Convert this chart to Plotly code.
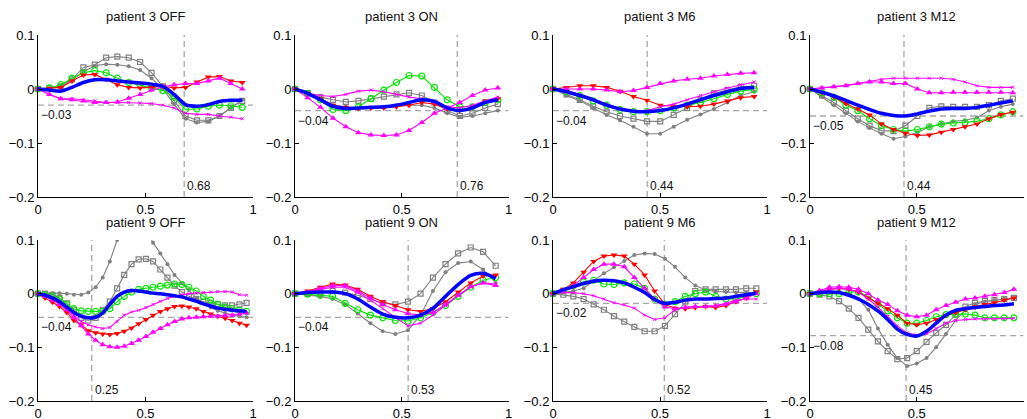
import plotly.graph_objects as go

# ---------------- data ----------------
TITLES = ["patient 3 OFF", "patient 3 ON", "patient 3 M6", "patient 3 M12",
          "patient 9 OFF", "patient 9 ON", "patient 9 M6", "patient 9 M12"]
MIN_X = [0.68, 0.76, 0.44, 0.44, 0.25, 0.53, 0.52, 0.45]
MIN_Y = [-0.03, -0.04, -0.04, -0.05, -0.044, -0.044, -0.018, -0.078]
MIN_X_LABEL = ["0.68", "0.76", "0.44", "0.44", "0.25", "0.53", "0.52", "0.45"]
MIN_Y_LABEL = ["\u22120.03", "\u22120.04", "\u22120.04", "\u22120.05",
               "\u22120.04", "\u22120.04", "\u22120.02", "\u22120.08"]

# patient 3 OFF
P3OFF_X = [0, 0.053, 0.106, 0.158, 0.211, 0.264, 0.317, 0.369, 0.422, 0.475,
           0.528, 0.581, 0.633, 0.686, 0.739, 0.792, 0.844, 0.897, 0.95]
P3OFF_GSQ = [0, 0.001, 0.005, 0.018, 0.04, 0.045, 0.058, 0.06, 0.058, 0.05,
             0.03, 0.005, -0.022, -0.05, -0.058, -0.058, -0.05, -0.035, -0.022]
P3OFF_GDOT = [0, 0.002, 0.006, 0.016, 0.032, 0.043, 0.046, 0.045, 0.042, 0.035,
              0.02, 0.0, -0.028, -0.055, -0.062, -0.06, -0.05, -0.035, -0.02]
P3OFF_GRN = [0, 0.002, 0.008, 0.02, 0.03, 0.034, 0.03, 0.02, 0.012, 0.007,
             0.003, -0.003, -0.015, -0.038, -0.037, -0.032, -0.03, -0.031, -0.034]
P3OFF_RED = [0, 0.001, 0.003, 0.015, 0.026, 0.027, 0.018, 0.008, 0.003, 0.002,
             0.003, 0.005, 0.002, 0.003, 0.013, 0.022, 0.023, 0.015, 0.012]
P3OFF_MTRI = [0, -0.01, -0.018, -0.02, -0.022, -0.025, -0.025, -0.024, -0.017, -0.01,
              -0.002, 0.004, 0.008, 0.01, 0.01, 0.015, 0.02, 0.01, 0.0]
P3OFF_MDOT = [0, -0.01, -0.018, -0.018, -0.02, -0.022, -0.025, -0.025, -0.025, -0.026,
              -0.027, -0.03, -0.035, -0.045, -0.047, -0.047, -0.05, -0.052, -0.055]
P3OFF_BLUE = [0, -0.002, -0.004, 0.003, 0.012, 0.017, 0.017, 0.015, 0.013, 0.011,
              0.009, 0.005, -0.01, -0.029, -0.032, -0.029, -0.023, -0.021, -0.021]

# patient 3 ON
P3ON_X = [0, 0.059, 0.119, 0.178, 0.238, 0.297, 0.356, 0.416, 0.475, 0.534,
          0.594, 0.653, 0.713, 0.772, 0.831, 0.891, 0.95]
P3ON_GSQ = [0, -0.008, -0.015, -0.02, -0.024, -0.022, -0.018, -0.014, -0.01, -0.007,
            -0.012, -0.025, -0.04, -0.05, -0.045, -0.035, -0.028]
P3ON_GDOT = [0, -0.008, -0.02, -0.03, -0.033, -0.035, -0.035, -0.033, -0.03, -0.03,
             -0.03, -0.035, -0.045, -0.052, -0.05, -0.045, -0.04]
P3ON_GRN = [0, -0.008, -0.02, -0.038, -0.04, -0.033, -0.018, -0.002, 0.012, 0.025,
            0.024, 0.003, -0.02, -0.033, -0.033, -0.025, -0.02]
P3ON_RED = [0, -0.008, -0.018, -0.03, -0.034, -0.036, -0.035, -0.035, -0.033, -0.03,
            -0.025, -0.028, -0.037, -0.04, -0.033, -0.022, -0.018]
P3ON_MTRI = [0, -0.016, -0.034, -0.054, -0.07, -0.081, -0.085, -0.086, -0.085, -0.077,
             -0.062, -0.045, -0.035, -0.025, -0.012, -0.002, 0.002]
P3ON_MDOT = [0, -0.008, -0.012, -0.014, -0.01, -0.004, -0.002, -0.005, -0.01, -0.015,
             -0.018, -0.025, -0.033, -0.035, -0.03, -0.022, -0.015]
P3ON_BLUE = [0, -0.008, -0.02, -0.032, -0.036, -0.035, -0.034, -0.033, -0.03, -0.025,
             -0.02, -0.023, -0.035, -0.04, -0.035, -0.025, -0.02]

# patient 3 M6
P3M6_X = [0, 0.063, 0.125, 0.188, 0.251, 0.313, 0.376, 0.439, 0.501, 0.564,
          0.627, 0.689, 0.752, 0.815, 0.877, 0.94]
P3M6_GSQ = [0, -0.01, -0.02, -0.032, -0.042, -0.05, -0.055, -0.06, -0.06, -0.048,
            -0.035, -0.02, -0.008, -0.002, 0.004, 0.006]
P3M6_GDOT = [0, -0.012, -0.022, -0.035, -0.048, -0.058, -0.07, -0.083, -0.083, -0.07,
             -0.057, -0.047, -0.037, -0.025, -0.012, -0.005]
P3M6_GRN = [0, -0.005, -0.012, -0.022, -0.03, -0.038, -0.042, -0.042, -0.04, -0.035,
            -0.03, -0.025, -0.018, -0.01, -0.004, -0.001]
P3M6_RED = [0, 0.003, 0.006, 0.006, 0.003, -0.004, -0.014, -0.021, -0.03, -0.032,
            -0.033, -0.032, -0.028, -0.022, -0.016, -0.014]
P3M6_MTRI = [0, 0.0, 0.0, 0.0, -0.002, -0.005, -0.003, 0.003, 0.01, 0.015,
             0.018, 0.02, 0.024, 0.027, 0.029, 0.03]
P3M6_MDOT = [0, -0.003, -0.01, -0.02, -0.028, -0.037, -0.042, -0.04, -0.033, -0.028,
             -0.02, -0.012, -0.005, 0.002, 0.008, 0.013]
P3M6_BLUE = [0, -0.005, -0.012, -0.02, -0.03, -0.037, -0.041, -0.042, -0.04, -0.035,
             -0.028, -0.02, -0.012, -0.005, 0.001, 0.003]

# patient 3 M12
P3M12_X = [0, 0.056, 0.112, 0.168, 0.224, 0.279, 0.335, 0.391, 0.447, 0.503,
           0.559, 0.615, 0.671, 0.726, 0.782, 0.838, 0.894, 0.95]
P3M12_GSQ = [0, -0.012, -0.025, -0.04, -0.055, -0.068, -0.077, -0.078, -0.068, -0.05,
             -0.035, -0.032, -0.033, -0.033, -0.033, -0.03, -0.022, -0.018]
P3M12_GDOT = [0, -0.015, -0.03, -0.045, -0.06, -0.072, -0.083, -0.092, -0.088, -0.08,
              -0.07, -0.065, -0.06, -0.058, -0.053, -0.04, -0.033, -0.028]
P3M12_GRN = [0, -0.007, -0.015, -0.03, -0.04, -0.055, -0.068, -0.075, -0.078, -0.075,
             -0.07, -0.065, -0.063, -0.062, -0.06, -0.055, -0.048, -0.042]
P3M12_RED = [0, -0.007, -0.015, -0.027, -0.037, -0.048, -0.065, -0.075, -0.082, -0.086,
             -0.085, -0.08, -0.075, -0.07, -0.065, -0.055, -0.047, -0.043]
P3M12_MTRI = [0, 0.002, 0.004, 0.006, 0.01, 0.013, 0.013, 0.01, 0.01, 0.0,
              -0.007, -0.007, -0.006, -0.006, -0.006, -0.006, -0.006, -0.007]
P3M12_MDOT = [0, 0.002, 0.004, 0.007, 0.01, 0.014, 0.018, 0.02, 0.02, 0.02,
              0.02, 0.02, 0.018, 0.013, 0.006, 0.003, 0.003, 0.003]
P3M12_BLUE = [0, -0.006, -0.013, -0.021, -0.03, -0.038, -0.045, -0.049, -0.05, -0.046,
              -0.041, -0.037, -0.036, -0.036, -0.034, -0.03, -0.026, -0.022]

# patient 9 OFF
P9OFF_X = [0, 0.033, 0.067, 0.1, 0.134, 0.167, 0.201, 0.234, 0.268, 0.301,
           0.334, 0.368, 0.401, 0.435, 0.468, 0.502, 0.535, 0.569, 0.602, 0.635,
           0.669, 0.702, 0.736, 0.769, 0.803, 0.836, 0.87, 0.903, 0.937, 0.97]
P9OFF_GSQ = [0, 0, -0.002, -0.008, -0.018, -0.03, -0.045, -0.05, -0.045, -0.03,
             -0.015, 0.01, 0.035, 0.055, 0.064, 0.065, 0.06, 0.045, 0.03, 0.015,
             0.003, -0.005, -0.01, -0.015, -0.018, -0.02, -0.022, -0.022, -0.02, -0.017]
P9OFF_GDOT = [0, 0.001, 0.001, 0.001, 0.0, -0.002, -0.002, 0.002, 0.012, 0.03,
              0.06, 0.1, 0.13, 0.145, 0.14, 0.12, 0.095, 0.075, 0.055, 0.035,
              0.02, 0.007, -0.008, -0.018, -0.026, -0.032, -0.036, -0.04, -0.042, -0.044]
P9OFF_GRN = [0, -0.002, -0.005, -0.01, -0.02, -0.028, -0.032, -0.033, -0.033, -0.033,
             -0.028, -0.015, -0.005, 0.003, 0.008, 0.01, 0.012, 0.014, 0.016, 0.018,
             0.017, 0.012, 0.005, -0.005, -0.012, -0.02, -0.025, -0.028, -0.031, -0.033]
P9OFF_RED = [0, -0.008, -0.016, -0.024, -0.035, -0.05, -0.058, -0.069, -0.073, -0.075,
             -0.076, -0.074, -0.07, -0.064, -0.056, -0.048, -0.04, -0.033, -0.028, -0.024,
             -0.023, -0.025, -0.028, -0.033, -0.038, -0.042, -0.046, -0.05, -0.055, -0.059]
P9OFF_MTRI = [0, -0.005, -0.012, -0.02, -0.03, -0.045, -0.06, -0.075, -0.087, -0.095,
              -0.099, -0.1, -0.098, -0.093, -0.087, -0.08, -0.072, -0.065, -0.058, -0.052,
              -0.047, -0.045, -0.044, -0.043, -0.042, -0.042, -0.041, -0.04, -0.038, -0.036]
P9OFF_MDOT = [0, -0.005, -0.01, -0.02, -0.03, -0.04, -0.052, -0.058, -0.062, -0.065,
              -0.063, -0.052, -0.04, -0.034, -0.031, -0.026, -0.02, -0.014, -0.009, -0.005,
              -0.002, 0.0, 0.001, 0.002, 0.003, 0.004, 0.004, 0.003, -0.002, -0.003]
P9OFF_BLUE = [0, -0.003, -0.008, -0.015, -0.025, -0.035, -0.042, -0.045, -0.044, -0.036,
              -0.02, -0.005, 0.003, 0.006, 0.005, 0.003, 0.001, 0.0, -0.002, -0.004,
              -0.006, -0.01, -0.014, -0.019, -0.023, -0.027, -0.029, -0.031, -0.032, -0.033]

# patient 9 ON
P9ON_X = [0, 0.059, 0.118, 0.176, 0.235, 0.294, 0.353, 0.411, 0.47, 0.529,
          0.588, 0.646, 0.705, 0.764, 0.823, 0.881, 0.94]
P9ON_GSQ = [0, 0, 0.003, 0.005, 0.002, -0.003, -0.01, -0.018, -0.02, -0.015,
            0.0, 0.03, 0.055, 0.075, 0.086, 0.078, 0.052]
P9ON_GDOT = [0, -0.002, -0.005, -0.01, -0.02, -0.037, -0.055, -0.07, -0.075, -0.068,
             -0.04, 0.005, 0.04, 0.057, 0.06, 0.045, 0.02]
P9ON_GRN = [0, -0.001, -0.003, -0.005, -0.018, -0.03, -0.04, -0.045, -0.05, -0.051,
            -0.045, -0.035, -0.022, -0.005, 0.012, 0.025, 0.03]
P9ON_RED = [0, 0.005, 0.012, 0.018, 0.016, 0.008, -0.005, -0.015, -0.022, -0.03,
            -0.033, -0.028, -0.015, 0.003, 0.02, 0.033, 0.035]
P9ON_MTRI = [0, 0.003, 0.01, 0.015, 0.015, 0.005, -0.008, -0.02, -0.03, -0.037,
             -0.04, -0.035, -0.02, -0.003, 0.013, 0.02, 0.015]
P9ON_MDOT = [0, 0.003, 0.008, 0.012, 0.012, 0.002, -0.012, -0.028, -0.043, -0.06,
             -0.055, -0.04, -0.022, -0.003, 0.013, 0.02, 0.018]
P9ON_BLUE = [0, 0.002, 0.003, 0.003, 0.0, -0.01, -0.025, -0.038, -0.044, -0.045,
             -0.04, -0.027, -0.005, 0.017, 0.034, 0.038, 0.028]

# patient 9 M6
P9M6_X = [0, 0.048, 0.095, 0.143, 0.19, 0.238, 0.285, 0.333, 0.38, 0.428,
          0.475, 0.523, 0.57, 0.618, 0.665, 0.713, 0.76, 0.808, 0.855, 0.903, 0.95]
P9M6_GSQ = [0, -0.002, -0.005, -0.01, -0.02, -0.03, -0.042, -0.052, -0.062, -0.07,
            -0.07, -0.06, -0.038, -0.015, 0.005, 0.008, 0.008, 0.008, 0.008, 0.01, 0.01]
P9M6_GDOT = [0, 0.003, 0.005, 0.01, 0.024, 0.038, 0.049, 0.061, 0.072, 0.075,
             0.074, 0.065, 0.05, 0.03, 0.015, 0.007, 0.004, 0.003, 0.002, 0.002, 0.002]
P9M6_GRN = [0, 0.005, 0.015, 0.022, 0.025, 0.018, 0.017, 0.02, 0.018, 0.01,
            -0.01, -0.02, -0.015, -0.005, 0.0, 0.003, -0.005, -0.01, -0.01, -0.005, 0.0]
P9M6_RED = [0, 0.008, 0.02, 0.04, 0.06, 0.07, 0.072, 0.07, 0.055, 0.035,
            0.005, -0.02, -0.027, -0.028, -0.026, -0.024, -0.026, -0.022, -0.015, -0.008, 0.003]
P9M6_MTRI = [0, 0.005, 0.015, 0.03, 0.045, 0.055, 0.055, 0.05, 0.03, 0.01,
             -0.01, -0.025, -0.028, -0.026, -0.024, -0.024, -0.023, -0.02, -0.015, -0.008, 0.0]
P9M6_MDOT = [0, 0.002, 0.002, 0.0, -0.004, -0.01, -0.017, -0.021, -0.027, -0.04,
             -0.048, -0.045, -0.03, -0.025, -0.025, -0.024, -0.022, -0.018, -0.012, -0.01, -0.01]
P9M6_BLUE = [0, 0.007, 0.013, 0.019, 0.023, 0.025, 0.024, 0.02, 0.012, 0.002,
             -0.011, -0.018, -0.016, -0.012, -0.01, -0.01, -0.009, -0.008, -0.005, -0.002, 0.001]

# patient 9 M12
P9M12_X = [0, 0.045, 0.091, 0.136, 0.182, 0.227, 0.273, 0.318, 0.364, 0.409,
           0.455, 0.5, 0.546, 0.591, 0.637, 0.682, 0.728, 0.773, 0.819, 0.864, 0.91, 0.955]
P9M12_GSQ = [0, -0.002, -0.005, -0.014, -0.028, -0.045, -0.067, -0.089, -0.107, -0.122,
             -0.12, -0.107, -0.09, -0.073, -0.058, -0.039, -0.024, -0.017, -0.014, -0.012, -0.01, -0.008]
P9M12_GDOT = [0, 0.0, 0.002, 0.003, 0.0, -0.01, -0.03, -0.065, -0.095, -0.12,
              -0.135, -0.13, -0.12, -0.1, -0.075, -0.05, -0.03, -0.02, -0.015, -0.012, -0.01, -0.008]
P9M12_GRN = [0, 0.0, 0.0, 0.0, 0.003, 0.003, -0.005, -0.02, -0.032, -0.045,
             -0.055, -0.055, -0.05, -0.043, -0.039, -0.038, -0.038, -0.04, -0.045, -0.045, -0.045, -0.045]
P9M12_RED = [0, 0.003, 0.008, 0.01, 0.008, 0.003, -0.008, -0.018, -0.028, -0.04,
             -0.055, -0.058, -0.055, -0.048, -0.04, -0.035, -0.03, -0.025, -0.02, -0.017, -0.012, -0.008]
P9M12_MTRI = [0, 0.006, 0.012, 0.013, 0.012, 0.008, 0.0, -0.012, -0.02, -0.032,
              -0.04, -0.043, -0.04, -0.03, -0.022, -0.016, -0.01, -0.008, -0.005, -0.002, 0.002, 0.008]
P9M12_MDOT = [0, 0.004, 0.008, 0.01, 0.008, 0.003, -0.01, -0.025, -0.042, -0.06,
              -0.073, -0.077, -0.075, -0.065, -0.055, -0.05, -0.048, -0.047, -0.047, -0.047, -0.047, -0.046]
P9M12_BLUE = [0, 0.002, 0.003, 0.002, -0.003, -0.01, -0.02, -0.032, -0.048, -0.066,
              -0.076, -0.079, -0.07, -0.055, -0.04, -0.031, -0.028, -0.026, -0.024, -0.022, -0.021, -0.019]

PANELS = [
    (P3OFF_X, P3OFF_GSQ, P3OFF_GDOT, P3OFF_GRN, P3OFF_RED, P3OFF_MTRI, P3OFF_MDOT, P3OFF_BLUE),
    (P3ON_X, P3ON_GSQ, P3ON_GDOT, P3ON_GRN, P3ON_RED, P3ON_MTRI, P3ON_MDOT, P3ON_BLUE),
    (P3M6_X, P3M6_GSQ, P3M6_GDOT, P3M6_GRN, P3M6_RED, P3M6_MTRI, P3M6_MDOT, P3M6_BLUE),
    (P3M12_X, P3M12_GSQ, P3M12_GDOT, P3M12_GRN, P3M12_RED, P3M12_MTRI, P3M12_MDOT, P3M12_BLUE),
    (P9OFF_X, P9OFF_GSQ, P9OFF_GDOT, P9OFF_GRN, P9OFF_RED, P9OFF_MTRI, P9OFF_MDOT, P9OFF_BLUE),
    (P9ON_X, P9ON_GSQ, P9ON_GDOT, P9ON_GRN, P9ON_RED, P9ON_MTRI, P9ON_MDOT, P9ON_BLUE),
    (P9M6_X, P9M6_GSQ, P9M6_GDOT, P9M6_GRN, P9M6_RED, P9M6_MTRI, P9M6_MDOT, P9M6_BLUE),
    (P9M12_X, P9M12_GSQ, P9M12_GDOT, P9M12_GRN, P9M12_RED, P9M12_MTRI, P9M12_MDOT, P9M12_BLUE),
]

# ---------------- styles ----------------
W, H = 1027, 419
COL_PX = [(38, 253), (295, 508.5), (553, 767), (810, 1023.5)]
ROW_PX = [(35, 197), (240, 401)]
FONT = "Liberation Sans, Arial, sans-serif"

SERIES_STYLE = [
    dict(color="#808080", symbol="square-open", size=5, lw=1.1, mlw=1.2),
    dict(color="#808080", symbol="circle", size=4, lw=1.1, mlw=0),
    dict(color="#00e600", symbol="circle-open", size=6, lw=1.1, mlw=1.2),
    dict(color="#ff0000", symbol="triangle-down", size=6, lw=1.1, mlw=0),
    dict(color="#ff00ff", symbol="triangle-up", size=6, lw=1.1, mlw=0),
    dict(color="#ff00ff", symbol="x-thin", size=3, lw=1.1, mlw=1),
]

fig = go.Figure()
layout = dict(
    width=W, height=H, margin=dict(l=0, r=0, t=0, b=0),
    paper_bgcolor="white", plot_bgcolor="white", showlegend=False,
    font=dict(family=FONT, size=13, color="black"),
)
shapes, annotations = [], []

for k, panel in enumerate(PANELS):
    r, c = divmod(k, 4)
    ax = "" if k == 0 else str(k + 1)
    xa, ya = "x" + ax, "y" + ax
    x0p, x1p = COL_PX[c]
    y0p, y1p = ROW_PX[r]
    layout["xaxis" + ax] = dict(
        domain=[x0p / W, x1p / W], range=[0, 1], anchor=ya,
        tickvals=[0, 0.5, 1], ticktext=["0", "0.5", "1"],
        showline=True, linecolor="black", linewidth=1, ticks="inside", ticklen=4,
        tickcolor="black", showgrid=False, zeroline=False, automargin=False,
        tickfont=dict(family=FONT, size=13, color="black"))
    layout["yaxis" + ax] = dict(
        domain=[1 - y1p / H, 1 - y0p / H], range=[-0.2, 0.1], anchor=xa,
        tickvals=[-0.2, -0.1, 0, 0.1],
        ticktext=["\u22120.2", "\u22120.1", "0", "0.1"],
        showline=True, linecolor="black", linewidth=1, ticks="inside", ticklen=4,
        tickcolor="black", showgrid=False, zeroline=False, automargin=False,
        tickfont=dict(family=FONT, size=13, color="black"))

    xs = panel[0]
    for s, ys in enumerate(panel[1:7]):
        st = SERIES_STYLE[s]
        fig.add_trace(go.Scatter(
            x=xs, y=ys, xaxis=xa, yaxis=ya, mode="lines+markers",
            line=dict(color=st["color"], width=st["lw"]),
            marker=dict(symbol=st["symbol"], size=st["size"], color=st["color"],
                        line=dict(color=st["color"], width=st["mlw"])),
            cliponaxis=(max(ys) > 0.1), hoverinfo="skip"))
    fig.add_trace(go.Scatter(
        x=xs, y=panel[7], xaxis=xa, yaxis=ya, mode="lines",
        line=dict(color="#0000ff", width=3.5, shape="spline", smoothing=0.8),
        hoverinfo="skip"))

    dash = dict(color="#a6a6a6", width=1.3, dash="6px,4px")
    shapes.append(dict(type="line", xref=xa, yref=ya, x0=MIN_X[k], x1=MIN_X[k],
                       y0=-0.2, y1=0.1, line=dash, layer="below"))
    shapes.append(dict(type="line", xref=xa, yref=ya, x0=0, x1=1,
                       y0=MIN_Y[k], y1=MIN_Y[k], line=dash, layer="below"))
    annotations.append(dict(x=0, y=MIN_Y[k], xref=xa, yref=ya, text=MIN_Y_LABEL[k],
                            showarrow=False, xanchor="left", yanchor="top", xshift=1, yshift=-1,
                            font=dict(family=FONT, size=12, color="#111")))
    annotations.append(dict(x=MIN_X[k], y=-0.2, xref=xa, yref=ya, text=MIN_X_LABEL[k],
                            showarrow=False, xanchor="left", yanchor="bottom", xshift=1, yshift=2,
                            font=dict(family=FONT, size=12, color="#111")))
    annotations.append(dict(x=(x0p + x1p) / 2 / W, y=1 - (y0p - 18) / H, xref="paper", yref="paper",
                            text=TITLES[k], showarrow=False, xanchor="center", yanchor="middle",
                            font=dict(family=FONT, size=13, color="#111")))

layout["shapes"] = shapes
layout["annotations"] = annotations
fig.update_layout(**layout)
fig.write_html("out.html", config={"displayModeBar": False},
               post_script="document.body.style.margin='0px';document.body.style.padding='0px';")
